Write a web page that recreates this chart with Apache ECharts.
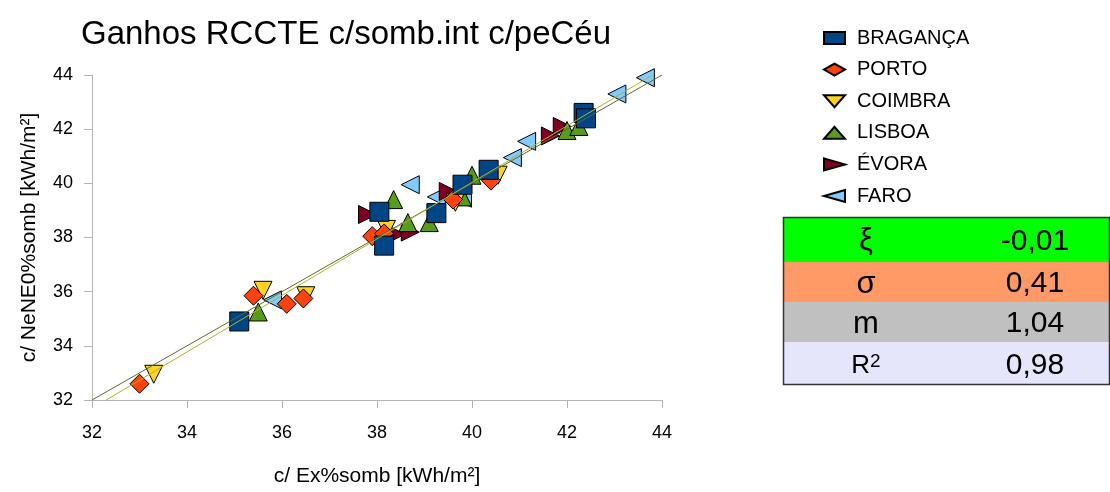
<!DOCTYPE html>
<html><head><meta charset="utf-8">
<script src="https://cdn.jsdelivr.net/npm/echarts@6/dist/echarts.min.js"></script>
<style>html,body{margin:0;padding:0;background:#fff}#c{width:1110px;height:492px}</style>
</head><body><div id="c"></div>
<script>
const titleText = 'Ganhos RCCTE c/somb.int c/peCéu';
const xName = 'c/ Ex%somb [kWh/m²]';
const yName = 'c/ NeNE0%somb [kWh/m²]';
const seriesNames = ['BRAGANÇA','PORTO','COIMBRA','LISBOA','ÉVORA','FARO'];
const braganca = [[35.1,34.9],[38.05,38.95],[38.15,37.7],[39.25,38.9],[39.8,39.95],[40.35,40.5],[42.35,42.6],[42.4,42.4]];
const porto = [[33.0,32.6],[35.4,35.85],[36.1,35.55],[36.45,35.75],[37.9,38.05],[38.15,38.15],[39.6,39.4],[40.4,40.1]];
const coimbra = [[33.3,32.95],[35.6,36.05],[36.5,35.85],[38.2,38.3],[39.65,39.3],[40.55,40.3]];
const lisboa = [[35.5,35.25],[38.35,39.4],[38.65,38.55],[39.1,38.55],[39.8,39.5],[40.0,40.3],[42.0,41.95],[42.25,42.1]];
const evora = [[37.8,38.85],[38.4,38.12],[38.7,38.2],[39.5,39.7],[41.65,41.75],[41.9,42.1]];
const faro = [[35.8,35.7],[38.7,39.95],[39.25,39.5],[39.8,39.45],[40.85,40.95],[41.15,41.55],[43.05,43.3],[43.65,43.9]];
const identityLine = [[32,32],[44,44]];
const fitLine = [[32.3,32],[43.8,44]];
const statLabels = ['ξ','σ','m','R²'];
const statValues = ['-0,01','0,41','1,04','0,98'];

const seriesData = [braganca, porto, coimbra, lisboa, evora, faro];
const colors = ['#004586','#ff420e','#ffd320','#579d1c','#7e0021','#83caff'];
const symbols = ['rect','diamond','triangle','triangle','triangle','triangle'];
const rotates = [0,0,180,0,-90,90];
const sizes = [19,19,18,18,18,18];
const zs = [8,7,6,5,4,3];
const legendIcons = ['rect','diamond','path://M0,0L21,0L10.5,12Z','path://M10.5,0L21,12L0,12Z','path://M0,0L21,6L0,12Z','path://M21,0L0,6L21,12Z'];

const FONT = 'Liberation Sans, Arial, sans-serif';
const chart = echarts.init(document.getElementById('c'), null, {renderer:'canvas', width:1110, height:492});

const series = seriesNames.map((n,i)=>({
  name:n, type:'scatter', data:seriesData[i], symbol:symbols[i], symbolRotate:rotates[i],
  symbolSize:sizes[i], z:zs[i],
  itemStyle:{color:colors[i], borderColor:'#000', borderWidth:1, opacity:1}
}));
series.push({type:'line', data:identityLine, symbol:'none', z:10, silent:true,
  lineStyle:{color:'#5a6b2c', width:1}});
series.push({type:'line', data:fitLine, symbol:'none', z:11, silent:true,
  lineStyle:{color:'#b3b02a', width:1}});

const rowTops = [217,262,302,342];
const rowBottoms = [262,302,342,385];
const rowColors = ['#00ff00','#ff9966','#c0c0c0','#e6e6fa'];
const graphic = [];
statLabels.forEach((lab,i)=>{
  graphic.push({type:'rect', shape:{x:783, y:rowTops[i], width:326, height:rowBottoms[i]-rowTops[i]},
    style:{fill:rowColors[i]}, z:1});
  const cy = (rowTops[i]+rowBottoms[i])/2 + 2;
  if (lab === 'R²') {
    graphic.push({type:'text', x:866, y:cy, z:3, style:{text:'{b|R}{s|2}', align:'center', verticalAlign:'middle',
      rich:{b:{fontSize:26, fontFamily:FONT, fill:'#000', verticalAlign:'bottom'}, s:{fontSize:19, fontFamily:FONT, fill:'#000', verticalAlign:'top'}}}});
  } else {
    graphic.push({type:'text', x:866, y:cy, z:3, style:{text:lab, align:'center', verticalAlign:'middle',
      fontSize:31, fontFamily:FONT, fill:'#000'}});
  }
  graphic.push({type:'text', x:1035, y:cy, z:3, style:{text:statValues[i], align:'center', verticalAlign:'middle',
    fontSize:30, fontFamily:FONT, fill:'#000'}});
});
graphic.push({type:'rect', shape:{x:783.5, y:217.5, width:326, height:167}, style:{fill:'none', stroke:'#333', lineWidth:1.5}, z:4});

chart.setOption({
  backgroundColor:'#fff',
  animation:false,
  title:{text:titleText, left:76, top:13, textStyle:{fontSize:33, fontWeight:'normal', color:'#000', fontFamily:FONT}},
  legend:{orient:'vertical', left:818, top:23, itemGap:11.6, itemWidth:21, itemHeight:12,
    data:seriesNames.map((n,i)=>({name:n, icon:legendIcons[i]})),
    textStyle:{fontSize:20, color:'#000', fontFamily:FONT, lineHeight:20, padding:[0,0,0,7]}},
  grid:{left:92, width:570, top:75, height:333, containLabel:false},
  xAxis:{type:'value', min:32, max:44, interval:2, name:xName, nameLocation:'middle', nameGap:66,
    nameTextStyle:{fontSize:21, color:'#000', fontFamily:FONT},
    axisLine:{lineStyle:{color:'#b3b3b3'}}, axisTick:{length:8, lineStyle:{color:'#b3b3b3'}},
    axisLabel:{fontSize:18, color:'#000', margin:24, fontFamily:FONT}, splitLine:{show:false}},
  yAxis:{type:'value', min:32, max:44, interval:2, name:yName, nameLocation:'middle', nameGap:52,
    nameTextStyle:{fontSize:21, color:'#000', fontFamily:FONT},
    axisLine:{show:true, lineStyle:{color:'#b3b3b3'}}, axisTick:{show:true, length:8, lineStyle:{color:'#b3b3b3'}},
    axisLabel:{fontSize:18, color:'#000', margin:19, fontFamily:FONT}, splitLine:{show:false}},
  series:series,
  graphic:graphic
});
</script></body></html>
